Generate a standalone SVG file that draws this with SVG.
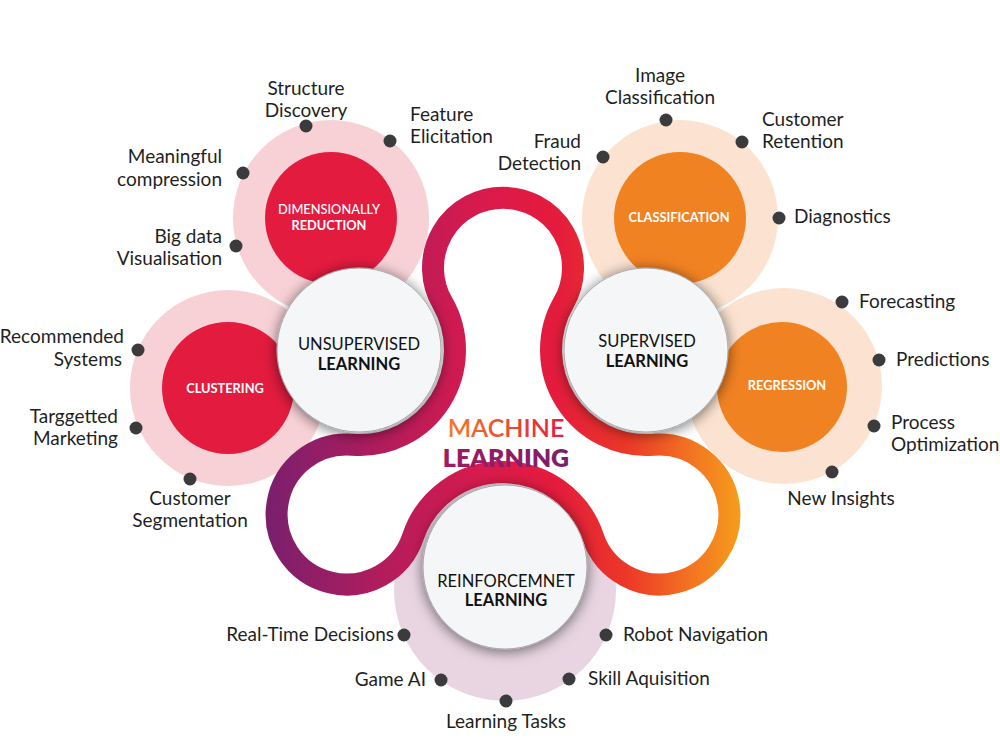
<svg xmlns="http://www.w3.org/2000/svg" width="1000" height="750" viewBox="0 0 1000 750">
  <defs>
    <linearGradient id="loopGrad" gradientUnits="userSpaceOnUse" x1="270" y1="0" x2="745" y2="0">
      <stop offset="0" stop-color="#7b1f6d"/>
      <stop offset="0.25" stop-color="#b51c5b"/>
      <stop offset="0.45" stop-color="#d91a4c"/>
      <stop offset="0.6" stop-color="#e41b3d"/>
      <stop offset="0.75" stop-color="#ec3728"/>
      <stop offset="0.88" stop-color="#f27121"/>
      <stop offset="1" stop-color="#f6a11c"/>
    </linearGradient>
    <linearGradient id="machGrad" gradientUnits="userSpaceOnUse" x1="448" y1="0" x2="564" y2="0">
      <stop offset="0" stop-color="#f4792a"/>
      <stop offset="0.5" stop-color="#ee4b2e"/>
      <stop offset="1" stop-color="#e41f45"/>
    </linearGradient>
    <linearGradient id="learnGrad" gradientUnits="userSpaceOnUse" x1="445" y1="0" x2="567" y2="0">
      <stop offset="0" stop-color="#a01a5e"/>
      <stop offset="1" stop-color="#7c1f6b"/>
    </linearGradient>
    <filter id="shadow" x="-30%" y="-30%" width="160%" height="160%">
      <feDropShadow dx="0" dy="2" stdDeviation="7" flood-color="#000" flood-opacity="0.55"/>
    </filter>
    <style>
      .lbl { font-family: Lato, "Open Sans", "Liberation Sans", sans-serif; font-size: 19px; fill: #1f1f1f; }
      .end { text-anchor: end; }
      .mid { text-anchor: middle; }
      .dot { fill: #3b3b3e; }
      .ringPink { fill: #f7d1d6; }
      .ringPeach { fill: #fce3d1; }
      .ringLilac { fill: #e8d5e1; }
      .red { fill: #e31b3f; }
      .orange { fill: #f18222; }
      .inner { font-family: Lato, "Open Sans", "Liberation Sans", sans-serif; fill: #ffffff; text-anchor: middle; font-size: 12.8px; }
      .white { fill: #f5f6f8; stroke: #a8a8ac; stroke-width: 1; filter: url(#shadow); }
      .main { font-family: Lato, "Open Sans", "Liberation Sans", sans-serif; fill: #111; text-anchor: middle; font-size: 16.5px; }
    </style>
  </defs>

  <rect width="1000" height="750" fill="#ffffff"/>

  <!-- outer rings -->
  <g id="rings">
    <circle class="ringPink" cx="331" cy="218" r="98"/>
    <circle class="ringPink" cx="228" cy="388" r="98"/>
    <circle class="ringPeach" cx="680" cy="218" r="98"/>
    <circle class="ringPeach" cx="784" cy="386" r="98"/>
    <circle class="ringLilac" cx="505" cy="590" r="111"/>
  </g>

  <g id="node-dimensionality">
    <circle class="red" cx="331" cy="218" r="66"/>
    <text class="inner" x="329" y="214" font-weight="500">DIMENSIONALLY</text>
    <text class="inner" x="329" y="230" font-weight="700">REDUCTION</text>
    <circle class="dot" cx="306" cy="126" r="6.5"/>
    <circle class="dot" cx="243" cy="173" r="6.5"/>
    <circle class="dot" cx="236" cy="246" r="6.5"/>
    <circle class="dot" cx="390" cy="141" r="6.5"/>
    <text class="lbl mid" x="306" y="95">Structure</text>
    <text class="lbl mid" x="306" y="117">Discovery</text>
    <text class="lbl end" x="222" y="163">Meaningful</text>
    <text class="lbl end" x="222" y="186">compression</text>
    <text class="lbl end" x="222" y="243">Big data</text>
    <text class="lbl end" x="222" y="265">Visualisation</text>
    <text class="lbl" x="410" y="121">Feature</text>
    <text class="lbl" x="410" y="143">Elicitation</text>
  </g>

  <g id="node-clustering">
    <circle class="red" cx="228" cy="388" r="66"/>
    <text class="inner" x="225" y="393" font-weight="700">CLUSTERING</text>
    <circle class="dot" cx="138" cy="350" r="6.5"/>
    <circle class="dot" cx="136" cy="428" r="6.5"/>
    <circle class="dot" cx="190" cy="479" r="6.5"/>
    <text class="lbl end" x="124" y="343">Recommended</text>
    <text class="lbl end" x="122" y="366">Systems</text>
    <text class="lbl end" x="118" y="423">Targgetted</text>
    <text class="lbl end" x="118" y="445">Marketing</text>
    <text class="lbl mid" x="190" y="505">Customer</text>
    <text class="lbl mid" x="190" y="527">Segmentation</text>
  </g>

  <g id="node-classification">
    <circle class="orange" cx="680" cy="218" r="66"/>
    <text class="inner" x="679" y="222" font-weight="700">CLASSIFICATION</text>
    <circle class="dot" cx="603" cy="157" r="6.5"/>
    <circle class="dot" cx="666" cy="120" r="6.5"/>
    <circle class="dot" cx="742" cy="142" r="6.5"/>
    <circle class="dot" cx="779" cy="218" r="6.5"/>
    <text class="lbl end" x="581" y="148">Fraud</text>
    <text class="lbl end" x="581" y="170">Detection</text>
    <text class="lbl mid" x="660" y="82">Image</text>
    <text class="lbl mid" x="660" y="104">Classification</text>
    <text class="lbl" x="762" y="126">Customer</text>
    <text class="lbl" x="762" y="148">Retention</text>
    <text class="lbl" x="794" y="223">Diagnostics</text>
  </g>

  <g id="node-regression">
    <circle class="orange" cx="782" cy="387" r="65"/>
    <text class="inner" x="787" y="390" font-weight="700">REGRESSION</text>
    <circle class="dot" cx="842" cy="302" r="6.5"/>
    <circle class="dot" cx="879" cy="360" r="6.5"/>
    <circle class="dot" cx="874" cy="426" r="6.5"/>
    <circle class="dot" cx="832" cy="472" r="6.5"/>
    <text class="lbl" x="859" y="308">Forecasting</text>
    <text class="lbl" x="896" y="366">Predictions</text>
    <text class="lbl" x="891" y="429">Process</text>
    <text class="lbl" x="891" y="451">Optimization</text>
    <text class="lbl mid" x="841" y="505">New Insights</text>
  </g>

  <g id="node-reinforcement-items">
    <circle class="dot" cx="404" cy="635" r="6.5"/>
    <circle class="dot" cx="606" cy="635" r="6.5"/>
    <circle class="dot" cx="441" cy="680" r="6.5"/>
    <circle class="dot" cx="569" cy="679" r="6.5"/>
    <circle class="dot" cx="506" cy="701" r="6.5"/>
    <text class="lbl end" x="394" y="641">Real-Time Decisions</text>
    <text class="lbl" x="623" y="641">Robot Navigation</text>
    <text class="lbl end" x="426" y="686">Game AI</text>
    <text class="lbl" x="588" y="685">Skill Aquisition</text>
    <text class="lbl mid" x="506" y="728">Learning Tasks</text>
  </g>

  <!-- connector loop -->
  <g id="connectors">
    <path d="M 442.3 302.6 A 70 70 0 1 1 563.7 302.6 A 95 95 0 0 0 653.7 444.7 A 70 70 0 1 1 593 536.7 A 95 95 0 0 0 413 536.7 A 70 70 0 1 1 352.3 444.7 A 95 95 0 0 0 442.3 302.6 Z" fill="none" stroke="url(#loopGrad)" stroke-width="22"/>
  </g>

  <g id="node-unsupervised">
    <circle class="white" cx="359" cy="350" r="82"/>
    <text class="main" x="359" y="350">UNSUPERVISED</text>
    <text class="main" x="359" y="370" font-weight="700">LEARNING</text>
  </g>

  <g id="node-supervised">
    <circle class="white" cx="646" cy="350" r="82"/>
    <text class="main" x="647" y="347">SUPERVISED</text>
    <text class="main" x="647" y="367" font-weight="700">LEARNING</text>
  </g>

  <g id="node-reinforcement">
    <circle class="white" cx="505" cy="567" r="82"/>
    <text class="main" x="506" y="587">REINFORCEMNET</text>
    <text class="main" x="506" y="606" font-weight="700">LEARNING</text>
  </g>

  <g id="title">
    <text x="506" y="437" text-anchor="middle" font-family="Lato, 'Open Sans', sans-serif" font-size="25" font-weight="600" fill="url(#machGrad)">MACHINE</text>
    <text x="506" y="467" text-anchor="middle" font-family="Lato, 'Open Sans', sans-serif" font-size="25" font-weight="800" fill="url(#learnGrad)">LEARNING</text>
  </g>
</svg>
